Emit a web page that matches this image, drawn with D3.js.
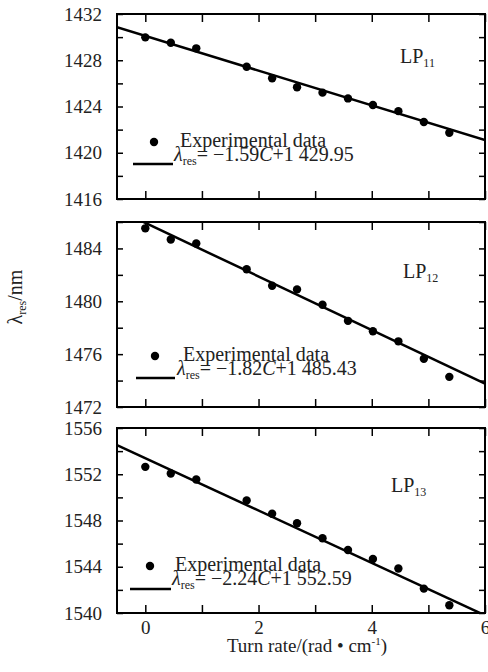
<!DOCTYPE html>
<html>
<head>
<meta charset="utf-8">
<script src="https://cdn.jsdelivr.net/npm/d3@7"></script>
<style>
  body { margin: 0; background: #fff; }
  svg text { font-family: "Liberation Serif", "Times New Roman", serif; }
  .axis .domain { display: none; }
  .axis line { stroke: #000; stroke-width: 1.5; }
  .axis text { font-size: 19px; fill: #222; }
</style>
</head>
<body>
<div id="chart"></div>
<script>
// Data
var turnRate = [0, 0.45, 0.9, 1.79, 2.24, 2.68, 3.13, 3.58, 4.02, 4.47, 4.92, 5.37];
var lp11 = [1429.98, 1429.52, 1429.03, 1427.44, 1426.44, 1425.66, 1425.2, 1424.7, 1424.13, 1423.6, 1422.66, 1421.73];
var lp12 = [1485.52, 1484.68, 1484.38, 1482.42, 1481.18, 1480.9, 1479.74, 1478.52, 1477.73, 1476.97, 1475.65, 1474.28];
var lp13 = [1552.64, 1552.06, 1551.54, 1549.74, 1548.58, 1547.77, 1546.46, 1545.45, 1544.67, 1543.85, 1542.11, 1540.67];

// fitted lines: value at each end of the x range
var fitX = [-0.5, 6];
var fit11 = [1430.85, 1421.1];
var fit12 = [1486.95, 1473.77];
var fit13 = [1554.52, 1539.8];

var modes = ["11", "12", "13"];
var slopes = ["\u22121.59", "\u22121.82", "\u22122.24"];
var intercepts = ["+1 429.95", "+1 485.43", "+1 552.59"];

var yDomains = [[1416, 1432], [1472, 1486], [1540, 1556]];
var yTicks = [
  [1416, 1418, 1420, 1422, 1424, 1426, 1428, 1430, 1432],
  [1472, 1474, 1476, 1478, 1480, 1482, 1484, 1486],
  [1540, 1542, 1544, 1546, 1548, 1550, 1552, 1554, 1556]
];
var yTickLabels = [
  [1416, 1420, 1424, 1428, 1432],
  [1472, 1476, 1480, 1484],
  [1540, 1544, 1548, 1552, 1556]
];
var xTicks = [0, 1, 2, 3, 4, 5, 6];
var xTickLabels = [0, 2, 4, 6];

var series = [lp11, lp12, lp13];
var fits = [fit11, fit12, fit13];

// layout per panel
var panelTops = [14, 222, 428];
var panelHeight = 185;
var legendPos = [
  { dot: 154, text: 180, lineX: [133, 173], eq: 174, dy: 128, row1: 133, row2: 147, lineY: 150 },
  { dot: 155, text: 183, lineX: [136, 175], eq: 177, dy: 134, row1: 139, row2: 153, lineY: 156 },
  { dot: 150, text: 175, lineX: [130, 171], eq: 172, dy: 138, row1: 143, row2: 157, lineY: 161 }
];
var lpPos = [[400, 49], [403, 56], [391, 64]];

var width = 488;
var height = 672;
var left = 117;
var right = 485;

var svg = d3.select("#chart")
  .append("svg")
  .attr("width", width)
  .attr("height", height)
  .attr("font-family", "'Liberation Serif', 'Times New Roman', serif");

var xScale = d3.scaleLinear().domain([-0.5, 6]).range([left, right]);

panelTops.forEach(function(top, p) {
  var bottom = top + panelHeight;
  var yScale = d3.scaleLinear().domain(yDomains[p]).range([bottom, top]);
  var g = svg.append("g").attr("class", "panel panel-" + p);

  var clipId = "clip-" + p;
  g.append("clipPath")
    .attr("id", clipId)
    .append("rect")
    .attr("x", left)
    .attr("y", top)
    .attr("width", right - left)
    .attr("height", panelHeight);

  // axes, ticks pointing inside on all four sides
  var labelsY = yTickLabels[p];
  g.append("g")
    .attr("class", "y axis")
    .attr("transform", "translate(" + left + ",0)")
    .call(d3.axisLeft(yScale)
      .tickValues(yTicks[p])
      .tickSize(-6)
      .tickPadding(15)
      .tickFormat(function(d) { return labelsY.indexOf(d) > -1 ? d : ""; }));

  g.append("g")
    .attr("class", "y axis")
    .attr("transform", "translate(" + right + ",0)")
    .call(d3.axisRight(yScale).tickValues(yTicks[p]).tickSize(-6).tickFormat(""));

  g.append("g")
    .attr("class", "x axis")
    .attr("transform", "translate(0," + top + ")")
    .call(d3.axisTop(xScale).tickValues(xTicks).tickSize(-8).tickFormat(""));

  var last = p === panelTops.length - 1;
  g.append("g")
    .attr("class", "x axis")
    .attr("transform", "translate(0," + bottom + ")")
    .call(d3.axisBottom(xScale)
      .tickValues(xTicks)
      .tickSize(-8)
      .tickPadding(8)
      .tickFormat(function(d) { return last && xTickLabels.indexOf(d) > -1 ? d : ""; }));

  // d3 puts sans-serif on axis groups; drop it so the serif face applies
  g.selectAll(".axis").attr("font-family", null).attr("font-size", null);

  // frame
  g.append("rect")
    .attr("x", left)
    .attr("y", top)
    .attr("width", right - left)
    .attr("height", panelHeight)
    .attr("fill", "none")
    .attr("stroke", "#000")
    .attr("stroke-width", 2);

  // fit line
  var fitLine = d3.line()
    .x(function(d) { return xScale(d[0]); })
    .y(function(d) { return yScale(d[1]); });
  g.append("path")
    .datum(fitX.map(function(x, i) { return [x, fits[p][i]]; }))
    .attr("clip-path", "url(#" + clipId + ")")
    .attr("d", fitLine)
    .attr("fill", "none")
    .attr("stroke", "#000")
    .attr("stroke-width", 2.5);

  // points
  g.selectAll(".dot")
    .data(series[p])
    .enter()
    .append("circle")
    .attr("class", "dot")
    .attr("cx", function(d, i) { return xScale(turnRate[i]); })
    .attr("cy", function(d) { return yScale(d); })
    .attr("r", 4.2)
    .attr("fill", "#000");

  // mode label
  var lp = g.append("text")
    .attr("x", lpPos[p][0])
    .attr("y", top + lpPos[p][1])
    .attr("font-size", 20)
    .attr("fill", "#222");
  lp.append("tspan").text("LP");
  lp.append("tspan").attr("font-size", 12).attr("dy", 4).text(modes[p]);

  // legend
  var lg = legendPos[p];
  g.append("circle")
    .attr("cx", lg.dot)
    .attr("cy", top + lg.dy)
    .attr("r", 4.2)
    .attr("fill", "#000");
  g.append("text")
    .attr("x", lg.text)
    .attr("y", top + lg.row1)
    .attr("font-size", 20)
    .attr("fill", "#222")
    .text("Experimental data");
  g.append("line")
    .attr("x1", lg.lineX[0])
    .attr("x2", lg.lineX[1])
    .attr("y1", top + lg.lineY)
    .attr("y2", top + lg.lineY)
    .attr("stroke", "#000")
    .attr("stroke-width", 2.5);
  var eq = g.append("text")
    .attr("x", lg.eq)
    .attr("y", top + lg.row2)
    .attr("font-size", 20)
    .attr("fill", "#222");
  eq.append("tspan").attr("font-style", "italic").text("\u03bb");
  eq.append("tspan").attr("font-size", 12).attr("dy", 4).text("res");
  eq.append("tspan").attr("dy", -4).text("= " + slopes[p]);
  eq.append("tspan").attr("font-style", "italic").text("C");
  eq.append("tspan").text(intercepts[p]);
});

// axis titles
var yTitle = svg.append("text")
  .attr("transform", "translate(22,297) rotate(-90)")
  .attr("text-anchor", "middle")
  .attr("font-size", 20)
  .attr("fill", "#222");
yTitle.append("tspan").text("\u03bb");
yTitle.append("tspan").attr("font-size", 12).attr("dy", 4).text("res");
yTitle.append("tspan").attr("dy", -4).text("/nm");

var xTitle = svg.append("text")
  .attr("x", 307)
  .attr("y", 652)
  .attr("text-anchor", "middle")
  .attr("font-size", 19)
  .attr("fill", "#222");
xTitle.append("tspan").text("Turn rate/(rad \u2022 cm");
xTitle.append("tspan").attr("font-size", 11).attr("dy", -7).text("-1");
xTitle.append("tspan").attr("dy", 7).text(")");
</script>
</body>
</html>
